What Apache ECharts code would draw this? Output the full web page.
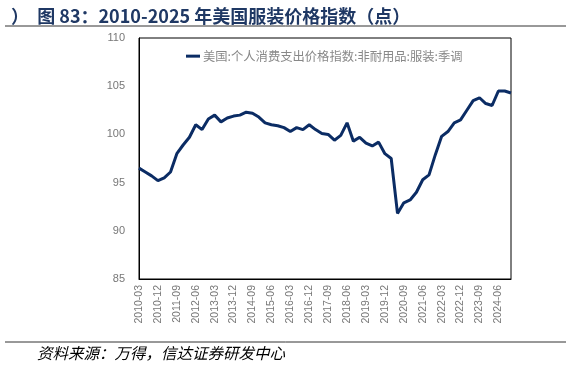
<!DOCTYPE html>
<html><head><meta charset="utf-8">
<script src="https://cdn.jsdelivr.net/npm/echarts@6/dist/echarts.min.js"></script>
<style>html,body{margin:0;padding:0;background:#fff}#c{width:570px;height:368px}</style>
</head><body><div id="c"></div>
<script>
const categories = (function(){const a=[];for(let y=2010;y<=2024;y++){for(const m of ['03','06','09','12'])a.push(y+'-'+m);}return a;})();
const seriesName = '美国:个人消费支出价格指数:非耐用品:服装:季调';
const values = [
96.5,96.1,95.7,95.2,95.5,96.1,98.0,98.9,99.7,101.0,
100.5,101.6,102.0,101.3,101.7,101.9,102.0,102.3,102.2,101.8,
101.2,101.0,100.9,100.7,100.3,100.7,100.5,101.0,100.5,100.1,
100.0,99.4,99.9,101.2,99.3,99.7,99.1,98.8,99.2,98.0,
97.5,91.8,92.9,93.2,94.0,95.3,95.8,97.9,99.8,100.3,
101.2,101.5,102.5,103.5,103.8,103.2,103.0,104.5,104.5,104.3
];
const yTicks = [85,90,95,100,105,110];

const chart = echarts.init(document.getElementById('c'));
chart.setOption({
  animation:false,
  title:{text:'）  图 83：2010-2025 年美国服装价格指数（点）',left:6,top:2,
    textStyle:{fontFamily:'"Noto Sans CJK SC", sans-serif',fontSize:18,fontWeight:'bold',color:'#1F3864'}},
  graphic:[
    {type:'line',shape:{x1:5,y1:26,x2:566,y2:26},style:{stroke:'#333',lineWidth:1}},
    {type:'line',shape:{x1:5,y1:342,x2:566,y2:342},style:{stroke:'#333',lineWidth:1}},
    {type:'text',left:37,top:345,style:{text:'资料来源：万得，信达证券研发中心',fill:'#000',
      font:'italic 15.5px "Noto Sans CJK SC", sans-serif'}}
  ],
  legend:{data:[seriesName],left:181,top:45,itemWidth:14,itemHeight:3,itemGap:0,
    textStyle:{color:'#888',fontSize:12.3,fontFamily:'"Noto Sans CJK SC", serif',padding:[0,0,0,-2]},
    icon:'rect'},
  grid:{left:139,right:59,top:38,bottom:89,show:true,borderColor:'#000',borderWidth:1,containLabel:false},
  xAxis:{type:'category',data:categories,boundaryGap:false,
    axisLine:{lineStyle:{color:'#000'}},axisTick:{show:false},
    axisLabel:{rotate:90,interval:2,color:'#777',fontSize:10.5,fontFamily:'"Liberation Sans", Arial',margin:6},
    splitLine:{show:false}},
  yAxis:{type:'value',min:yTicks[0],max:yTicks[yTicks.length-1],interval:5,
    axisLine:{show:true,lineStyle:{color:'#000'}},axisTick:{show:false},
    axisLabel:{color:'#777',fontSize:11,fontFamily:'"Liberation Sans", Arial',margin:14},
    splitLine:{show:false}},
  series:[{name:seriesName,type:'line',data:values,showSymbol:false,symbol:'none',
    lineStyle:{color:'#0B2C64',width:3},itemStyle:{color:'#0B2C64'}}]
});
</script></body></html>
